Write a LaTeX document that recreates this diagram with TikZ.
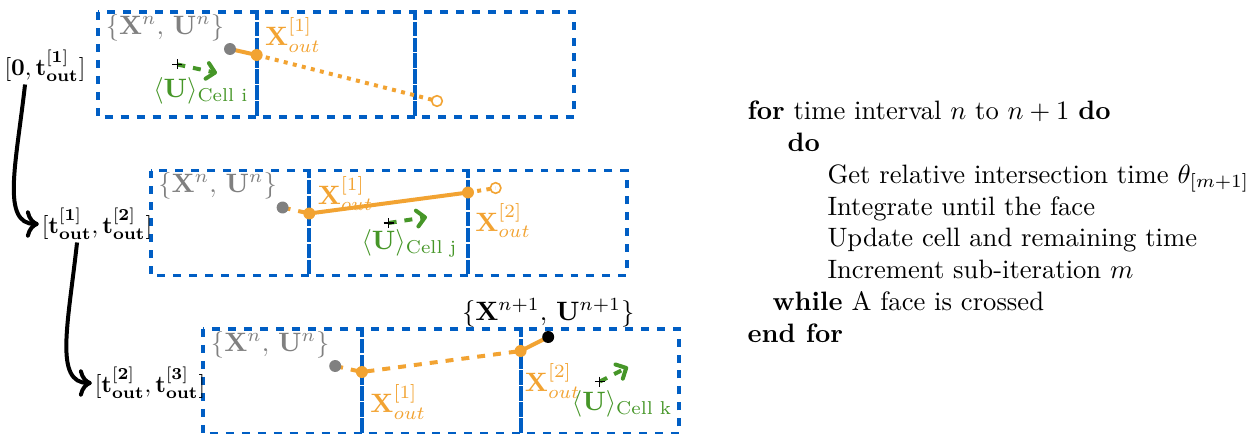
\documentclass[tikz,border=0pt]{standalone}
\usepackage{amsmath}
\usetikzlibrary{arrows.meta}
\definecolor{cellblue}{RGB}{0,94,196}
\definecolor{trajorange}{RGB}{242,163,50}
\definecolor{velgreen}{RGB}{70,150,40}
\definecolor{oldgray}{RGB}{128,128,128}
\tikzset{
  cellbox/.style={draw=cellblue, line width=1.5pt, dashed},
  traj/.style={draw=trajorange, line width=1.5pt},
  velarrow/.style={-{Straight Barb[length=3pt,width=6pt,round]}, draw=velgreen, line width=1.5pt, dashed},
  timearrow/.style={->, line width=1.5pt},
  timelabel/.style={inner sep=1pt, scale=0.9},
  olddot/.style={fill=oldgray},
  hitdot/.style={fill=trajorange},
  enddot/.style={draw=trajorange, line width=0.6pt},
  xout/.style={text=trajorange},
  stateold/.style={text=oldgray},
  velnode/.style={text=velgreen},
  algline/.style={anchor=base west, inner sep=0pt},
}
\newcommand{\cellcentre}[1]{\draw[line width=0.4pt] (#1) +(-5,0) -- +(5,0) (#1) +(0,-5) -- +(0,5);}
\begin{document}
\begin{tikzpicture}[x=0.3759pt, y=-0.3759pt]
  \useasboundingbox (0,0) rectangle (1255,434);
  \foreach \r in {0,1,2}
    \foreach \k in {0,1,2}
      \draw[cellbox] ({98+52.6*\r+158.7*\k},{12+158.5*\r}) rectangle +(158.7,105);

  \begin{scope}[shift={(98,12)}]
    \coordinate (ga) at (132,37);
    \coordinate (xa1) at (158.7,43);
    \coordinate (ea) at (339,89);
    \coordinate (ca) at (79.35,52.5);
    \coordinate (va) at (119,61);
    \draw[traj] (ga) -- (xa1);
    \draw[traj, dotted] (xa1) -- (ea);
    \draw[velarrow] (ca) -- (va);
    \cellcentre{ca}
    \fill[olddot] (ga) circle (2.25pt);
    \fill[hitdot] (xa1) circle (2.25pt);
    \draw[enddot] (ea) circle (2pt);
    \node[stateold] (olda) at (67,15.5) {$\{\mathbf{X}^n,\,\mathbf{U}^n\}$};
    \node[xout] (outa1) at (195,23) {$\mathbf{X}_{out}^{[1]}$};
    \node[velnode] (vela) at (103,79) {$\langle\mathbf{U}\rangle_{\text{Cell i}}$};
  \end{scope}

  \begin{scope}[shift={(150.6,170.5)}]
    \coordinate (gb) at (132,37);
    \coordinate (xb1) at (158.7,43);
    \coordinate (xb2) at (317.4,22);
    \coordinate (eb) at (345,17.5);
    \coordinate (cb) at (238.05,52.5);
    \coordinate (vb) at (276.4,46.5);
    \draw[traj, dashed] (gb) -- (xb1);
    \draw[traj] (xb1) -- (xb2);
    \draw[traj, dotted] (xb2) -- (eb);
    \draw[velarrow] (cb) -- (vb);
    \cellcentre{cb}
    \fill[olddot] (gb) circle (2.25pt);
    \fill[hitdot] (xb1) circle (2.25pt);
    \fill[hitdot] (xb2) circle (2.25pt);
    \draw[enddot] (eb) circle (2pt);
    \node[stateold] (oldb) at (67,15.5) {$\{\mathbf{X}^n,\,\mathbf{U}^n\}$};
    \node[xout] (outb1) at (195,23) {$\mathbf{X}_{out}^{[1]}$};
    \node[xout] (outb2) at (352.5,50) {$\mathbf{X}_{out}^{[2]}$};
    \node[velnode] (velb) at (259,72.5) {$\langle\mathbf{U}\rangle_{\text{Cell j}}$};
  \end{scope}

  \begin{scope}[shift={(203.2,329)}]
    \coordinate (gc) at (132,37);
    \coordinate (xc1) at (158.7,43);
    \coordinate (xc2) at (317.4,22);
    \coordinate (bc) at (345,8);
    \coordinate (cc) at (396.75,52.5);
    \coordinate (vc) at (424.8,38);
    \draw[traj, dashed] (gc) -- (xc1) -- (xc2);
    \draw[traj] (xc2) -- (bc);
    \draw[velarrow] (cc) -- (vc);
    \cellcentre{cc}
    \fill[olddot] (gc) circle (2.25pt);
    \fill[hitdot] (xc1) circle (2.25pt);
    \fill[hitdot] (xc2) circle (2.25pt);
    \fill (bc) circle (2.25pt);
    \node[stateold] (oldc) at (67,15.5) {$\{\mathbf{X}^n,\,\mathbf{U}^n\}$};
    \node (newc) at (345,-16) {$\{\mathbf{X}^{n+1},\,\mathbf{U}^{n+1}\}$};
    \node[xout] (outc1) at (195,73) {$\mathbf{X}_{out}^{[1]}$};
    \node[xout] (outc2) at (349.5,52) {$\mathbf{X}_{out}^{[2]}$};
    \node[velnode] (velc) at (419,75) {$\langle\mathbf{U}\rangle_{\text{Cell k}}$};
  \end{scope}

  \node[timelabel] (t1) at (45,66) {$[\mathbf{0},\mathbf{t}^{\mathbf{[1]}}_{\mathbf{out}}]$};
  \node[timelabel] (t2) at (97,224) {$[\mathbf{t}^{\mathbf{[1]}}_{\mathbf{out}},\mathbf{t}^{\mathbf{[2]}}_{\mathbf{out}}]$};
  \node[timelabel] (t3) at (150,383) {$[\mathbf{t}^{\mathbf{[2]}}_{\mathbf{out}},\mathbf{t}^{\mathbf{[3]}}_{\mathbf{out}}]$};
  \draw[timearrow] ([xshift=-7.5pt]t1.south) .. controls +(-9,80) and +(-38,0) .. (t2.west);
  \draw[timearrow] ([xshift=-7.5pt]t2.south) .. controls +(-9,82) and +(-38,0) .. (t3.west);

  \node[algline] (alg1) at (747,119) {\textbf{for} time interval $n$ to $n+1$ \textbf{do}};
  \node[algline] (alg2) at (787,151) {\textbf{do}};
  \node[algline] (alg3) at (827,183) {Get relative intersection time $\theta_{[m+1]}$};
  \node[algline] (alg4) at (827,215) {Integrate until the face};
  \node[algline] (alg5) at (827,246) {Update cell and remaining time};
  \node[algline] (alg6) at (827,278) {Increment sub-iteration $m$};
  \node[algline] (alg7) at (772,310) {\textbf{while} A face is crossed};
  \node[algline] (alg8) at (747,342) {\textbf{end for}};
\end{tikzpicture}
\end{document}
